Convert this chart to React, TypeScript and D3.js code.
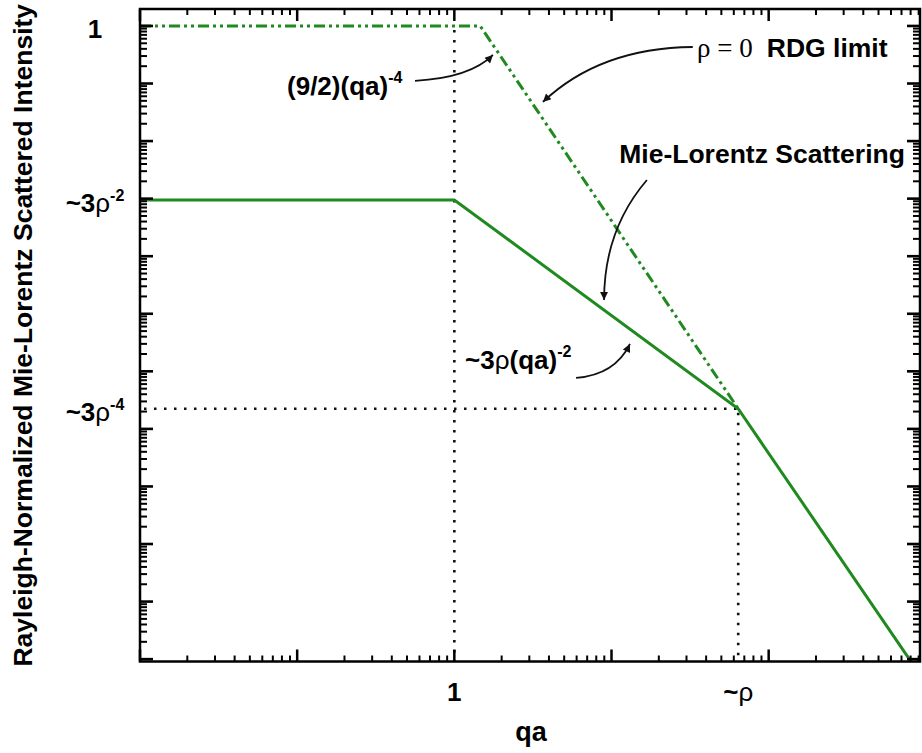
import React from 'react';
import * as d3 from 'd3';

// frame of the plot in the 922x753 picture
const W = 922;
const H = 753;
const plotLeft = 140;
const plotRight = 920;
const plotTop = 9;
const plotBottom = 661.5;

// axis domains (log)
const qaDomain = [0.01, 918];
const intensityDomain = [9.1e-12, 1.97];

// rho = 0 RDG limit (dash-dot)
const rdgQa = [0.01, 1.46, 64];
const rdgI = [1, 1, 2.24e-7];

// Mie-Lorentz scattering (solid)
const mieQa = [0.01, 1, 64, 795];
const mieI = [9.5e-4, 9.5e-4, 2.24e-7, 9.5e-12];

// tick labels
const xTickValues = [1, 64];
const xTickLabels = ['1', '~ρ'];
const yTickValues = [1, 9.5e-4, 2.24e-7];
const yTickBase = ['1', '~3ρ', '~3ρ'];
const yTickSup = ['', '-2', '-4'];

// annotation anchors, in data coordinates [qa, I]
const rdgFormulaAt = [0.0862, 0.0633];
const rhoZeroAt = [35.0, 0.293];
const rdgLabelAt = [97.3, 0.293];
const mieLabelAt = [11.2, 0.00417];
const mieFormulaAt = [1.17, 1.1e-6];

// annotation arrows: start, control, tip
const arrows = [
  [[0.562, 0.111], [1.26, 0.125], [1.76, 0.313]],
  [[32.9, 0.431], [8.45, 0.415], [3.66, 0.0478]],
  [[16.8, 0.00211], [8.97, 0.000286], [8.97, 1.74e-5]],
  [[5.95, 7.67e-7], [10.53, 8.65e-7], [13.1, 2.99e-6]],
];

const green = '#1f8a1f';
const sans = '"Liberation Sans", Arial, sans-serif';
const serif = '"Liberation Serif", "Times New Roman", serif';

const isDecade = (t: number) => Math.abs(Math.log10(t) - Math.round(Math.log10(t))) < 1e-6;

export default function App() {
  const x = d3.scaleLog().domain(qaDomain).range([plotLeft, plotRight]);
  const y = d3.scaleLog().domain(intensityDomain).range([plotBottom, plotTop]);

  const path = (qa: number[], I: number[]) =>
    d3.line<number>().x((d) => x(qa[d])).y((d) => y(I[d]))(qa.map((_, i) => i)) || '';

  const xTicks = x.ticks();
  const yTicks = y.ticks(30);

  const arrowPath = (a: number[][]) => {
    const p = d3.path();
    p.moveTo(x(a[0][0]), y(a[0][1]));
    p.quadraticCurveTo(x(a[1][0]), y(a[1][1]), x(a[2][0]), y(a[2][1]));
    return p.toString();
  };

  const kinkX = x(mieQa[2]);
  const kinkY = y(mieI[2]);

  return (
    <svg
      width={W}
      height={H}
      style={{ position: 'absolute', left: 0, top: 0, background: '#fff' }}
      fontFamily={sans}
    >
      <defs>
        <marker
          id="head"
          viewBox="0 0 10 10"
          refX="10"
          refY="5"
          markerWidth="11"
          markerHeight="8"
          markerUnits="userSpaceOnUse"
          orient="auto"
        >
          <path d="M0,0 L10,5 L0,10 Z" fill="#111" />
        </marker>
      </defs>
      <rect width={W} height={H} fill="#fff" />

      {/* dotted guides */}
      <g stroke="#111" strokeWidth={2.6} strokeDasharray="2.5,7.5" fill="none">
        <line x1={x(1)} x2={x(1)} y1={y(1) + 4} y2={plotBottom} />
        <line x1={kinkX} x2={kinkX} y1={kinkY + 4} y2={plotBottom} />
        <line x1={plotLeft + 4} x2={kinkX} y1={kinkY} y2={kinkY} />
      </g>

      {/* curves */}
      <path
        d={path(rdgQa, rdgI)}
        fill="none"
        stroke={green}
        strokeWidth={3}
        strokeDasharray="11,4,3,4,3,4"
      />
      <path d={path(mieQa, mieI)} fill="none" stroke={green} strokeWidth={3} />

      {/* ticks */}
      <g stroke="#000">
        {xTicks.map((t, i) => {
          const len = isDecade(t) ? 12 : 6;
          const w = isDecade(t) ? 2.5 : 2;
          return (
            <g key={'x' + i} strokeWidth={w}>
              <line x1={x(t)} x2={x(t)} y1={plotBottom} y2={plotBottom - len} />
              <line x1={x(t)} x2={x(t)} y1={plotTop} y2={plotTop + len} />
            </g>
          );
        })}
        {yTicks.map((t, i) => {
          const len = isDecade(t) ? 13 : 7;
          const w = isDecade(t) ? 2.6 : 2;
          return (
            <g key={'y' + i} strokeWidth={w}>
              <line x1={plotLeft} x2={plotLeft + len} y1={y(t)} y2={y(t)} />
              <line x1={plotRight} x2={plotRight - len} y1={y(t)} y2={y(t)} />
            </g>
          );
        })}
      </g>

      {/* frame */}
      <rect
        x={plotLeft}
        y={plotTop}
        width={plotRight - plotLeft}
        height={plotBottom - plotTop}
        fill="none"
        stroke="#000"
        strokeWidth={2.5}
      />

      {/* y tick labels */}
      {yTickValues.map((v, i) => (
        <text key={'yl' + i} x={95} y={y(v) + 12} textAnchor="middle" fontSize={26} fontWeight="bold">
          {yTickBase[i].replace('ρ', '')}
          {yTickBase[i].includes('ρ') && <tspan fontWeight="normal">ρ</tspan>}
          {yTickSup[i] && (
            <tspan fontSize={16} dy={-11}>
              {yTickSup[i]}
            </tspan>
          )}
        </text>
      ))}

      {/* x tick labels */}
      {xTickValues.map((v, i) => (
        <text key={'xl' + i} x={x(v)} y={701} textAnchor="middle" fontSize={26} fontWeight="bold">
          {xTickLabels[i].replace('ρ', '')}
          {xTickLabels[i].includes('ρ') && <tspan fontWeight="normal">ρ</tspan>}
        </text>
      ))}

      {/* axis titles */}
      <text x={531} y={741} textAnchor="middle" fontSize={27} fontWeight="bold">
        qa
      </text>
      <text
        transform={`translate(32,${(plotTop + plotBottom) / 2}) rotate(-90)`}
        textAnchor="middle"
        fontSize={26.5}
        fontWeight="bold"
      >
        Rayleigh-Normalized Mie-Lorentz Scattered Intensity
      </text>

      {/* annotations */}
      <text x={x(rdgFormulaAt[0])} y={y(rdgFormulaAt[1])} fontSize={26} fontWeight="bold">
        (9/2)(qa)
        <tspan fontSize={16} dy={-12}>
          -4
        </tspan>
      </text>
      <text x={x(rhoZeroAt[0])} y={y(rhoZeroAt[1])} fontSize={27} fontFamily={serif}>
        ρ = 0
      </text>
      <text x={x(rdgLabelAt[0])} y={y(rdgLabelAt[1])} fontSize={26.5} fontWeight="bold">
        RDG limit
      </text>
      <text x={x(mieLabelAt[0])} y={y(mieLabelAt[1])} fontSize={26.5} fontWeight="bold">
        Mie-Lorentz Scattering
      </text>
      <text x={x(mieFormulaAt[0])} y={y(mieFormulaAt[1])} fontSize={26} fontWeight="bold">
        ~3<tspan fontWeight="normal">ρ</tspan>(qa)
        <tspan fontSize={16} dy={-12}>
          -2
        </tspan>
      </text>

      <g fill="none" stroke="#111" strokeWidth={1.8}>
        {arrows.map((a, i) => (
          <path key={'a' + i} d={arrowPath(a)} markerEnd="url(#head)" />
        ))}
      </g>
    </svg>
  );
}
